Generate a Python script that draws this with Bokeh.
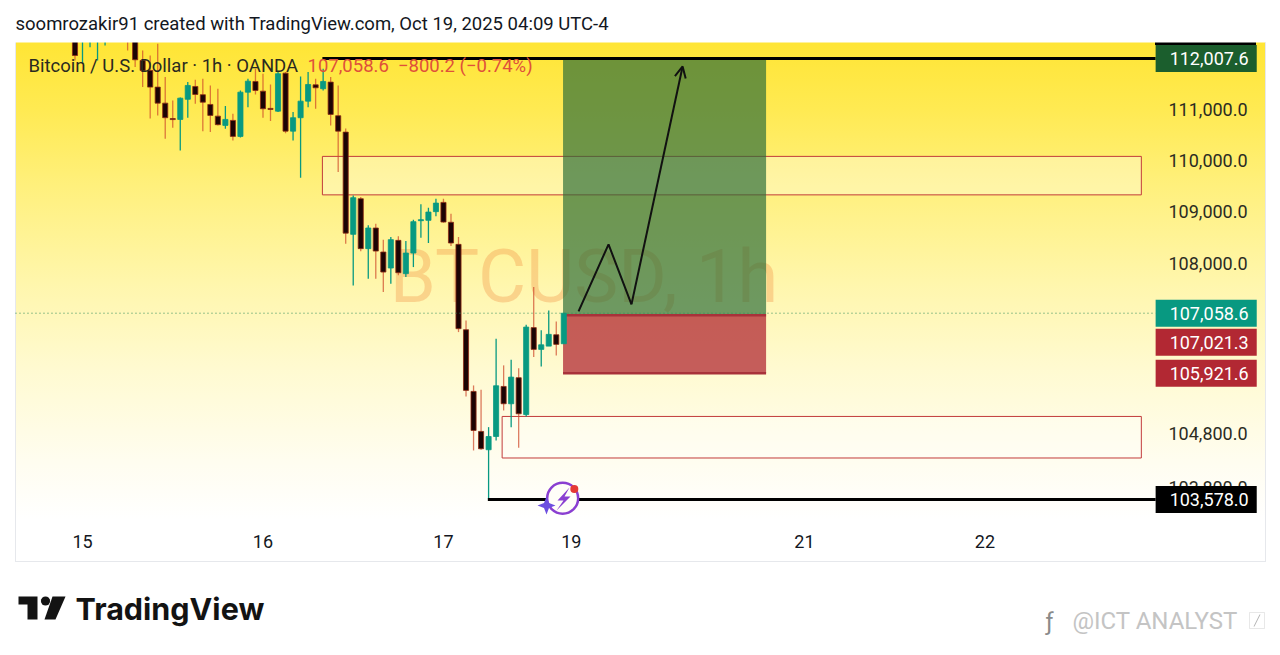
from bokeh.plotting import figure
from bokeh.models import (Range1d, FixedTicker, NumeralTickFormatter, Label, Arrow, OpenHead,
                          PolyAnnotation, BoxAnnotation, ColumnDataSource)
from bokeh.core.properties import value
from bokeh.embed import file_html
from bokeh.resources import INLINE
import math

# ---------- data (hourly bars) ----------
bar_index = list(range(-1, 65))
opens = [112600,112500,112500,112450,112450,112600,112600,112700,112450,111968,111770,111440,111124,110820,110803,111200,
         111453,111290,111098,110868,110686,110784,110470,111340,111552,111360,111020,110966,111717,110573,110837,111163,
         111486,111408,111539,110876,110554,108567,109255,108292,108689,108227,107920,108451,107812,108207,108830,108837,
         109005,109184,108800,108374,106745,105583,104836,104496,104742,105676,105352,105840,105150,106785,106373,106435,
         106650,106480]
highs = [112700,112800,112800,112700,112700,112750,112750,112800,112500,112167,112067,112300,111640,111177,111235,111539,
         111586,111605,111473,111408,111065,110915,111374,111605,111804,111705,111492,111737,111737,110947,111650,111737,
         111605,111804,111640,111473,110627,109320,109288,108740,108772,108465,108515,108528,108438,108850,109146,109080,
         109255,109255,108966,108515,106922,105695,105615,104916,106575,106072,106178,106020,106840,107556,106733,107112,
         106903,107060]
lows = [111968,111903,112232,111968,112266,112420,112420,112167,111837,111440,110820,110882,110425,110640,110196,110837,
        111112,110573,110554,110686,110620,110392,110450,111045,111295,110837,110770,110947,110534,110392,109663,111045,
        111013,111374,110686,109773,108387,107588,108240,107716,107716,107460,107620,107780,107747,107938,108503,108400,
        108914,108792,108342,106700,105489,104483,104496,103578,104668,105227,104916,104533,105115,106230,106053,106435,
        106260,106480]
closes = [112067,112700,112700,112600,112600,112500,112500,112450,111982,111770,111440,111124,110837,110800,111222,111473,
          111295,111143,110882,110700,110803,110470,111340,111558,111374,111013,111000,111705,110573,110837,111163,111492,
          111427,111552,110902,110573,108590,109275,108292,108689,108245,107843,108465,107830,108207,108811,108850,108997,
          109170,108804,108400,106765,105602,104854,104514,104742,105689,105352,105851,105165,106795,106373,106460,106657,
          106468,107058.6]

price_ticks = [111000, 110000, 109000, 108000, 104800, 103800]
day_ticks = [0, 24, 48, 65, 96, 120]
day_labels = ["15", "16", "17", "19", "21", "22"]

target_price = 112007.6
last_price = 107058.6
entry_price = 107021.3
stop_price = 105921.6
low_price = 103578.0

zone_left = [31.9, 55.8]
zone_right = [140.8, 140.8]
zone_top = [110079, 105115]
zone_bottom = [109330, 104343]

pos_left = 63.9
pos_right = 90.9

path_x = [65.96, 69.95, 73.0]
path_y = [107093, 108374, 107226]
arrow_end_x = 79.8
arrow_end_y = 111849

target_line_start = 31.9
low_line_start = 53.9
scale_edge = 142.7
chart_left = -8.91

tag_prices = [target_price, last_price, entry_price, stop_price, low_price]
tag_texts = ["112,007.6", "107,058.6", "107,021.3", "105,921.6", "103,578.0"]
tag_colors = ["#1b5e2d", "#089981", "#b22833", "#b22833", "#000000"]
tag_shift = [0, 0, -27, 0, 0]

UP = "#089981"
FONT = "Roboto"
FW, FH = 1265, 647   # the frame covers the page, so text outside the chart is not clipped

gradient = "linear-gradient(180deg,#ffe535 0%,#ffea52 14%,#fff07c 30%,#fff6ab 50%,#fffad0 68%,#fffdf0 88%,#ffffff 100%)"
layers = [
    "linear-gradient(#000,#000) 1155px 42px/101px 3px no-repeat",
    "linear-gradient(#e6e8ec,#e6e8ec) 15px 42px/1px 519px no-repeat",
    "linear-gradient(#e6e8ec,#e6e8ec) 1265px 42px/1px 519px no-repeat",
    "linear-gradient(#e6e8ec,#e6e8ec) 15px 561px/1251px 1px no-repeat",
    gradient + " 15px 42px/1250px 478px no-repeat",
]

p = figure(frame_width=FW, frame_height=FH, output_backend="svg", toolbar_location=None, y_axis_type="log",
           x_range=Range1d(-10.904, 157.31), y_range=Range1d(100893, 113166), y_axis_location="right",
           min_border_left=0, min_border_right=7, min_border_top=0, min_border_bottom=0,
           background_fill_alpha=0, border_fill_alpha=0, outline_line_alpha=0)
p.styles = {"background": ",".join(layers)}
p.grid.visible = False

ax = p.yaxis[0]
ax.ticker = FixedTicker(ticks=price_ticks)
ax.formatter = NumeralTickFormatter(format="0,0.0")
ax.axis_line_alpha = 0
ax.major_tick_line_alpha = 0
ax.minor_tick_line_alpha = 0
ax.major_tick_out = 0
ax.major_label_standoff = -97
ax.major_label_text_font = FONT
ax.major_label_text_font_size = "18px"
ax.major_label_text_color = "#2b2b22"

bx = p.xaxis[0]
bx.ticker = FixedTicker(ticks=day_ticks)
bx.major_label_overrides = dict(zip(day_ticks, day_labels))
bx.axis_line_alpha = 0
bx.major_tick_line_alpha = 0
bx.minor_tick_line_alpha = 0
bx.major_tick_out = 0
bx.major_label_standoff = -113
bx.major_label_text_font = FONT
bx.major_label_text_font_size = "18px"
bx.major_label_text_font_style = "normal"
bx.major_label_text_color = "#131722"

# watermark
p.text(x=[66.7], y=[107750], text=["BTCUSD, 1h"], text_font=value(FONT), text_font_size={"value": "74px"},
       text_align="center", text_baseline="middle", text_color="#f08a3c", text_alpha=0.32)

# zones
p.quad(left=zone_left, right=zone_right, top=zone_top, bottom=zone_bottom,
       fill_color="#ffffff", fill_alpha=0.32, line_color="#c23b3b", line_width=1)

# position boxes
p.quad(left=[pos_left], right=[pos_right], top=[target_price], bottom=[entry_price],
       fill_color="#2a6b38", fill_alpha=0.68, line_alpha=0)
p.quad(left=[pos_left], right=[pos_right], top=[entry_price], bottom=[stop_price],
       fill_color="#b22833", fill_alpha=0.75, line_alpha=0)
p.segment(x0=[pos_left, pos_left], x1=[pos_right, pos_right], y0=[entry_price, stop_price],
          y1=[entry_price, stop_price], line_color="#a8323a", line_width=2.5)

# candles
up = [c >= o for o, c in zip(opens, closes)]
src = ColumnDataSource(dict(
    x=bar_index, high=highs, low=lows,
    top=[max(o, c) for o, c in zip(opens, closes)],
    bottom=[min(o, c) for o, c in zip(opens, closes)],
    wick=[UP if u else "#cf4a2b" for u in up],
    wa=[1.0 if u else 0.72 for u in up],
    fill=[UP if u else "#1c0404" for u in up],
    edge=[UP if u else "#8c2a14" for u in up],
))
p.segment(x0="x", x1="x", y0="low", y1="high", line_color="wick", line_alpha="wa", line_width=1.3, source=src)
p.vbar(x="x", width=0.68, top="top", bottom="bottom", fill_color="fill", line_color="edge", line_width=0.8, source=src)

# level lines
p.segment(x0=[chart_left], x1=[scale_edge], y0=[last_price], y1=[last_price],
          line_color="#2f8a5c", line_dash="1 3", line_width=1)
p.segment(x0=[target_line_start, low_line_start], x1=[scale_edge, scale_edge], y0=[target_price, low_price],
          y1=[target_price, low_price], line_color="#000000", line_width=3)

# hand-drawn path
p.line(x=path_x, y=path_y, line_color="#111111", line_width=2)
p.add_layout(Arrow(end=OpenHead(size=11, line_width=2, line_color="#111111"), x_start=path_x[-1], y_start=path_y[-1],
                   x_end=arrow_end_x, y_end=arrow_end_y, line_color="#111111", line_width=2))

# purple badge
p.scatter(x=[63.85], y=[103600], size=31, marker="circle", fill_color="#fffef8", line_color="#8a3fd1", line_width=2.5)
p.scatter(x=[65.4], y=[103770], size=8, marker="circle", fill_color="#e53935", line_alpha=0)

def sx(px): return px
def sy(py): return FH - py

def poly(pts, color):
    p.add_layout(PolyAnnotation(xs=[sx(a) for a, b in pts], ys=[sy(b) for a, b in pts], xs_units="screen", ys_units="screen",
                                fill_color=color, fill_alpha=1, line_alpha=0, level="overlay"))

def box(x0, x1, y0, y1, **kw):
    p.add_layout(BoxAnnotation(left=sx(x0), right=sx(x1), top=sy(y0), bottom=sy(y1), left_units="screen", right_units="screen",
                               top_units="screen", bottom_units="screen", **kw))

# white strip above the chart: bars reaching past the top of the chart stop here
box(0, 1265, 0, 42, fill_color="#ffffff", fill_alpha=1, line_alpha=0, level="annotation")

poly([(569, 487), (557, 500), (563, 500), (556, 510), (570, 496), (564, 496)], "#8a3fd1")
poly([(546, 496), (548.5, 502.5), (555, 505), (548.5, 507.5), (546, 514), (543.5, 507.5), (537, 505), (543.5, 502.5)], "#6d4ee0")

# tags
for pr, tx, col, sh in zip(tag_prices, tag_texts, tag_colors, tag_shift):
    p.add_layout(Label(x=scale_edge, y=pr, text=tx, x_offset=0, y_offset=sh, text_color="#ffffff", text_font=FONT,
                       text_font_size="18px", text_baseline="middle", text_align="left",
                       background_fill_color=col, padding=(14, 8, 7, 7), level="overlay"))

def label(px, py, text, color, size, font=FONT, style="normal", align="left"):
    p.add_layout(Label(x=sx(px), y=sy(py), x_units="screen", y_units="screen", text=text, text_color=color,
                       text_font=font, text_font_size=size, text_font_style=style, text_baseline="middle",
                       text_align=align, level="overlay"))

label(15, 23.5, "soomrozakir91 created with TradingView.com, Oct 19, 2025 04:09 UTC-4", "#131722", "18.5px")
label(28, 65, "Bitcoin / U.S. Dollar · 1h · OANDA", "#2a2a20", "18.5px")
label(307, 65, "107,058.6\u00a0\u00a0−800.2 (−0.74%)", "#e0503a", "18.5px")
label(75, 608, "TradingView", "#131313", "30.5px", font="Inter", style="bold")
label(1072, 620, "@ICT ANALYST", "#c4c4c4", "24px")
label(1045, 621, "ƒ", "#8a8a8a", "24px")

# logo
poly([(18, 596), (37, 596), (37, 619), (27, 619), (27, 604), (18, 604)], "#131313")
poly([(52, 596), (65, 596), (55, 619), (44, 619)], "#131313")
poly([(45 + 4.6 * math.cos(i / 8 * math.pi), 600.5 + 4.6 * math.sin(i / 8 * math.pi)) for i in range(16)], "#131313")

# boxed slash after the handle
box(1249, 1264, 612, 628, fill_alpha=0, line_color="#b4b4b4", line_width=1, level="overlay")
poly([(1259, 614), (1260, 614), (1254, 626), (1253, 626)], "#b4b4b4")

open("out.html", "w").write(file_html(p, INLINE))
